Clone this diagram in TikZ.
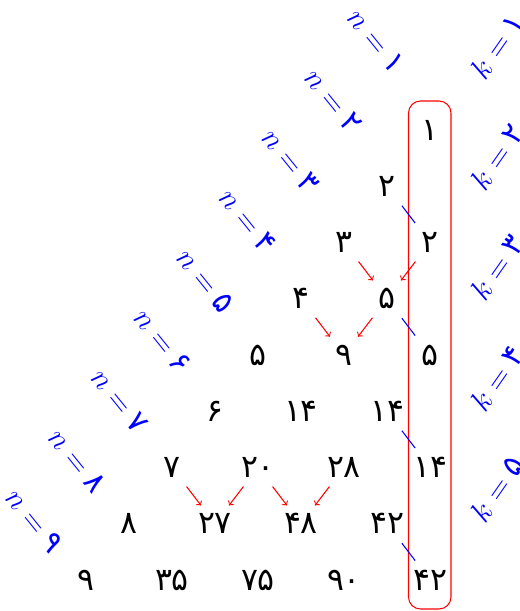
\documentclass[tikz,border=0pt]{standalone}
\usepackage{fontspec}
\newfontfamily\fa[Script=Arabic]{DejaVu Sans}
\usetikzlibrary{calc}

\begin{document}
\begin{tikzpicture}[font=\LARGE,
  num/.style={font=\fontsize{18}{20}\selectfont\fa, inner sep=1pt},
  lbl/.style={blue, font=\LARGE},
  addarrow/.style={->, red, line width=0.6pt, shorten <=0.48cm, shorten >=0.46cm},
  eqtick/.style={blue, line width=0.6pt, shorten <=0.49cm, shorten >=0.49cm}]
\def\dx{0.86}
\def\dy{1.125}
\clip (-8.6,-9.62) rectangle (1.78,2.6);
% entries: row n, place j
\foreach \n/\j/\v in {1/1/۱, 2/1/۲, 2/2/۲, 3/1/۳, 3/2/۵, 3/3/۵,
    4/1/۴, 4/2/۹, 4/3/۱۴, 4/4/۱۴, 5/1/۵, 5/2/۱۴, 5/3/۲۸, 5/4/۴۲, 5/5/۴۲,
    6/1/۶, 6/2/۲۰, 6/3/۴۸, 6/4/۹۰, 7/1/۷, 7/2/۲۷, 7/3/۷۵, 8/1/۸, 8/2/۳۵, 9/1/۹}
  \node[num] (t-\n-\j) at ({-\dx*(\n-\j)},{-\dy*(\n+\j-2)}) {\v};
% row and column labels
\foreach \n/\d in {1/۱, 2/۲, 3/۳, 4/۴, 5/۵, 6/۶, 7/۷, 8/۸, 9/۹}
  \node[lbl, rotate=-51] (n-\n) at ({-1.08-0.854*(\n-1)},{1.78-1.2*(\n-1)}) {$n=\mbox{\fa\d}$};
\foreach \k/\d in {1/۱, 2/۲, 3/۳, 4/۴, 5/۵}
  \node[lbl, rotate=55] (k-\k) at (1.34,{1.68-2.214*(\k-1)}) {$k=\mbox{\fa\d}$};
\draw[red, line width=0.6pt, rounded corners=0.24cm]
  ($(t-1-1.center)+(-0.43,0.58)$) rectangle ($(t-5-5.center)+(0.42,-0.58)$);
% sums
\draw[addarrow] (t-3-1.center) -- (t-3-2.center);
\draw[addarrow] (t-2-2.center) -- (t-3-2.center);
\draw[addarrow] (t-4-1.center) -- (t-4-2.center);
\draw[addarrow] (t-3-2.center) -- (t-4-2.center);
\draw[addarrow] (t-7-1.center) -- (t-7-2.center);
\draw[addarrow] (t-6-2.center) -- (t-7-2.center);
\draw[addarrow] (t-6-2.center) -- (t-6-3.center);
\draw[addarrow] (t-5-3.center) -- (t-6-3.center);
\foreach \n/\a/\b in {2/1/2, 3/2/3, 4/3/4, 5/4/5}
  \draw[eqtick] (t-\n-\a.center) -- (t-\n-\b.center);
\end{tikzpicture}
\end{document}
